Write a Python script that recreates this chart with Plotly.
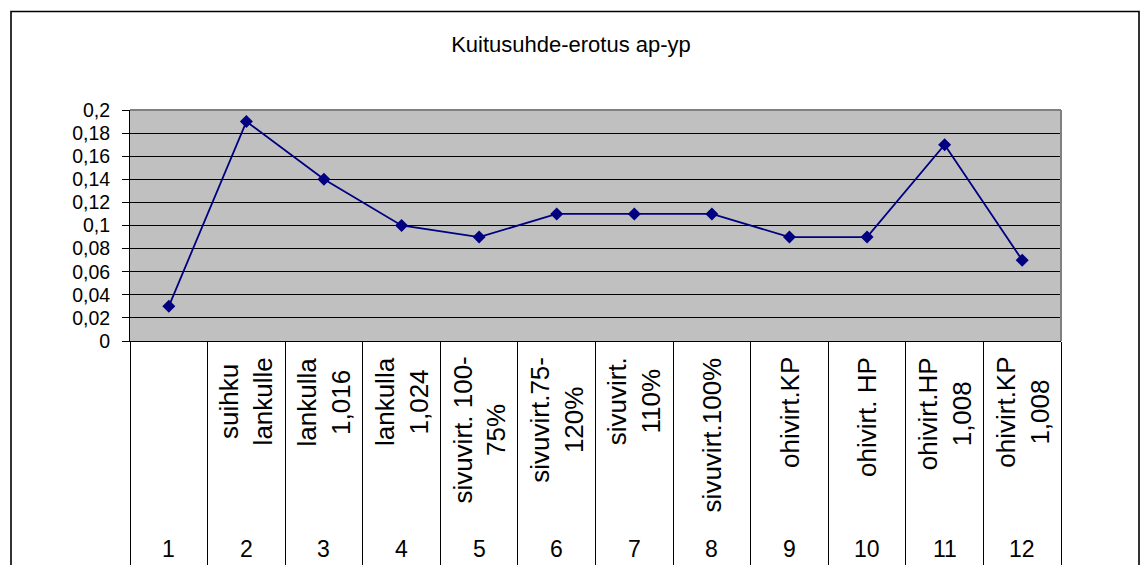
import plotly.graph_objects as go

# Fibre ratio difference per test run
CATEGORY_NUMBERS = ["1", "2", "3", "4", "5", "6", "7", "8", "9", "10", "11", "12"]
CATEGORY_LABELS = [
    "",
    "suihku\nlankulle",
    "lankulla\n1,016",
    "lankulla\n1,024",
    "sivuvirt. 100-\n75%",
    "sivuvirt.75-\n120%",
    "sivuvirt.\n110%",
    "sivuvirt.100%",
    "ohivirt.KP",
    "ohivirt. HP",
    "ohivirt.HP\n1,008",
    "ohivirt.KP\n1,008",
]
VALUES = [0.03, 0.19, 0.14, 0.10, 0.09, 0.11, 0.11, 0.11, 0.09, 0.09, 0.17, 0.07]
Y_TICK_VALUES = [0, 0.02, 0.04, 0.06, 0.08, 0.1, 0.12, 0.14, 0.16, 0.18, 0.2]
Y_TICK_LABELS = ["0", "0,02", "0,04", "0,06", "0,08", "0,1", "0,12", "0,14", "0,16", "0,18", "0,2"]
TITLE = "Kuitusuhde-erotus ap-yp"

# Page and plot-area geometry in pixels
W, H = 1142, 565
PLOT_L, PLOT_R, PLOT_T, PLOT_B = 130, 1061, 110, 341
FONT = "Liberation Sans, Arial, sans-serif"
NAVY = "#000080"


def px_x(px):
    return (px - PLOT_L) / (PLOT_R - PLOT_L)


def px_y(py):
    return (PLOT_B - py) / (PLOT_B - PLOT_T)


n = len(VALUES)
xs = list(range(1, n + 1))

fig = go.Figure()
fig.add_trace(go.Scatter(
    x=xs, y=VALUES, mode="lines+markers",
    line=dict(color=NAVY, width=1.8),
    marker=dict(symbol="diamond", size=10, color=NAVY),
    showlegend=False, cliponaxis=False,
))

annotations = []
# Rotated category names at the top of each table cell
for x, lab in zip(xs, CATEGORY_LABELS):
    if not lab:
        continue
    annotations.append(dict(
        x=x, xref="x", y=0, yref="paper", yanchor="top", xanchor="center",
        yshift=-14, text=lab.replace("\n", "<br>"), textangle=-90, align="center",
        showarrow=False, font=dict(family=FONT, size=26, color="black"),
    ))
# Category numbers along the bottom row
for x, num in zip(xs, CATEGORY_NUMBERS):
    annotations.append(dict(
        x=x, xref="x", y=0, yref="paper", yanchor="middle", xanchor="center",
        yshift=-(549 - PLOT_B), text=num, showarrow=False,
        font=dict(family=FONT, size=23, color="black"),
    ))

shapes = [
    # outer chart frame
    dict(type="rect", xref="paper", yref="paper",
         x0=px_x(11), x1=px_x(1139), y0=px_y(590), y1=px_y(11.5),
         line=dict(color="black", width=1.6), fillcolor="rgba(0,0,0,0)", layer="above"),
    # grey plot-area border (top and right edges)
    dict(type="line", xref="paper", yref="paper", x0=0, x1=1, y0=1, y1=1,
         line=dict(color="#808080", width=2), layer="above"),
    dict(type="line", xref="paper", yref="paper", x0=1, x1=1, y0=0, y1=1,
         line=dict(color="#808080", width=2), layer="above"),
]

fig.update_layout(
    width=W, height=H, autosize=False,
    margin=dict(l=PLOT_L, r=W - PLOT_R, t=PLOT_T, b=H - PLOT_B, pad=0, autoexpand=False),
    paper_bgcolor="white", plot_bgcolor="#C0C0C0",
    font=dict(family=FONT, color="black"),
    title=dict(text=TITLE, x=0.5, xref="container", xanchor="center",
               y=1 - 44 / H, yref="container", yanchor="middle",
               font=dict(family=FONT, size=22, color="black")),
    xaxis=dict(
        range=[0.5, n + 0.5], showgrid=False, zeroline=False, automargin=False,
        showline=True, linecolor="black", linewidth=1,
        ticks="outside", ticklen=240, tickcolor="black", tickwidth=1,
        tickvals=[i + 0.5 for i in range(n + 1)], showticklabels=False,
        fixedrange=True,
    ),
    yaxis=dict(
        range=[0, 0.2], showgrid=True, gridcolor="black", gridwidth=1,
        zeroline=False, showline=True, linecolor="black", linewidth=1, automargin=False,
        ticks="outside", ticklen=7, tickcolor="black", tickwidth=1,
        tickvals=Y_TICK_VALUES, ticktext=Y_TICK_LABELS,
        tickfont=dict(family=FONT, size=19.5, color="black"),
        ticklabelstandoff=8, fixedrange=True,
    ),
    annotations=annotations,
    shapes=shapes,
)

fig.write_html("out.html")
